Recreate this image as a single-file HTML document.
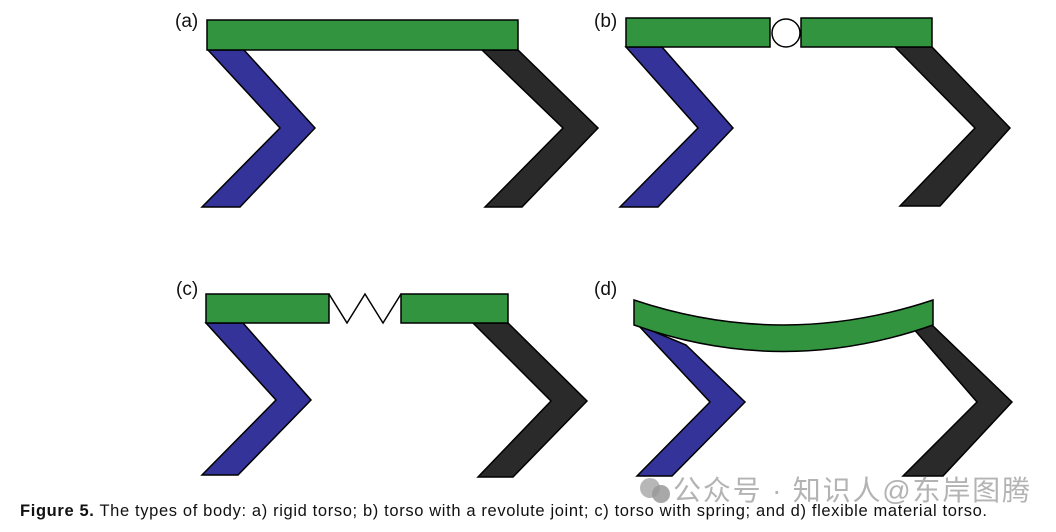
<!DOCTYPE html>
<html><head><meta charset="utf-8"><style>
html,body{margin:0;padding:0;background:#fff;width:1056px;height:532px;overflow:hidden}
svg{position:absolute;left:0;top:0}
</style></head><body>
<svg width="1056" height="532" viewBox="0 0 1056 532" xmlns="http://www.w3.org/2000/svg">
<g font-family="Liberation Sans, sans-serif" font-size="19" fill="#111">
<text x="175" y="27">(a)</text>
<text x="594" y="27">(b)</text>
<text x="176" y="295">(c)</text>
<text x="594" y="295">(d)</text>
</g>
<g stroke="#000" stroke-width="1.5" stroke-linejoin="miter">
<polygon points="208,50 244,50 315,128 240,207 202,207 280,128" fill="#333399"/>
<polygon points="482,50 518,50 598,128 522,207 485,207 563,128" fill="#2a2a2a"/>
<rect x="207" y="20" width="311" height="30" fill="#339440"/>
<polygon points="626,47 662,47 733,128 658,207 620,207 698,128" fill="#333399"/>
<polygon points="895,47 932,47 1010,128 940,206 900,206 975,128" fill="#2a2a2a"/>
<rect x="626" y="18" width="144" height="29" fill="#339440"/>
<rect x="801" y="18" width="131" height="29" fill="#339440"/>
<circle cx="786" cy="33" r="14" fill="#fff"/>
<polygon points="206,323 243,323 311,400 238,475 202,475 276,400" fill="#333399"/>
<polygon points="473,323 508,323 587,401 513,477 478,477 551,401" fill="#2a2a2a"/>
<rect x="206" y="294" width="123" height="29" fill="#339440"/>
<rect x="401" y="294" width="107" height="29" fill="#339440"/>
<polyline points="329,294 347,323 365,294 383,323 401,294" fill="none"/>
<polygon points="638,325 686,345 745,402 672,476 637,476 710,402" fill="#333399"/>
<polygon points="912,327 932,325 1012,402 943,476 903,476 977,402" fill="#2a2a2a"/>
<path d="M634,300 Q783,350 933,300 L933,325 Q783,378 634,325 Z" fill="#339440"/>
</g>
<text x="20" y="516" font-family="Liberation Sans, sans-serif" font-size="16.5" fill="#111" textLength="967" lengthAdjust="spacing"><tspan font-weight="bold">Figure 5.</tspan> The types of body: a) rigid torso; b) torso with a revolute joint; c) torso with spring; and d) flexible material torso.</text>
<g font-family="Liberation Sans, 'Noto Sans CJK SC', sans-serif" font-size="28" fill="#9a9a9a" opacity="0.75">
<text x="673" y="500" textLength="357" lengthAdjust="spacing">公众号 · 知识人@东岸图腾</text>
</g>
<circle cx="650" cy="488" r="10" fill="#aaa" opacity="0.85"/>
<circle cx="661" cy="494" r="9" fill="#999" opacity="0.85"/>
</svg>
</body></html>
